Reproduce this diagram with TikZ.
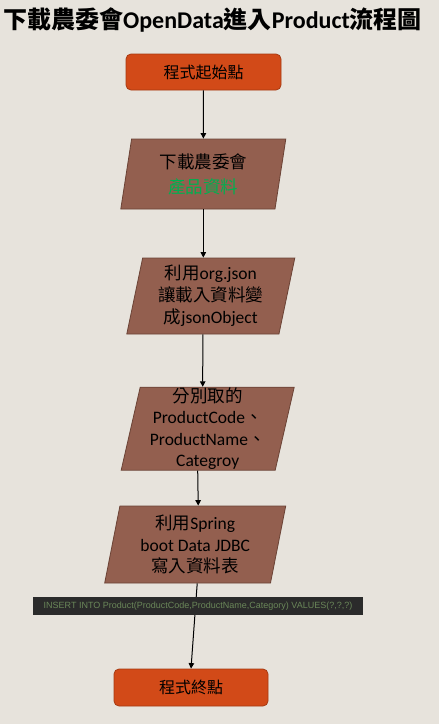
\documentclass[tikz,border=0pt]{standalone}
\usepackage{fontspec}
\setmainfont{Carlito}
\newfontfamily\zhfont{Noto Sans CJK TC}
\newfontfamily\sqlfont{Liberation Sans}
\newcommand{\zh}[1]{{\zhfont #1}}
\usepackage{tikz}
\usetikzlibrary{
  positioning, arrows.meta, shapes.geometric, calc
}
\definecolor{flowBack}{HTML}{E7E3DC}
\definecolor{flowOrange}{HTML}{D24A18}
\definecolor{flowOrangeDk}{HTML}{A63A12}
\definecolor{flowBrown}{HTML}{935F4F}
\definecolor{flowBrownDk}{HTML}{6B4336}
\definecolor{flowGreen}{HTML}{00B050}
\definecolor{sqlBack}{HTML}{2B2B2B}
\definecolor{sqlText}{HTML}{6A8759}
\tikzset{
  termbox/.style={rectangle, rounded corners=5pt, draw=flowOrangeDk,
    fill=flowOrange, line width=0.8pt, minimum width=155pt,
    minimum height=36pt, font=\fontsize{16}{19}\selectfont},
  databox/.style={trapezium, trapezium left angle=76,
    trapezium right angle=104, trapezium stretches body,
    draw=flowBrownDk, fill=flowBrown, line width=0.8pt, align=center,
    inner sep=1pt, font=\fontsize{17.5}{22}\selectfont},
  sqlbox/.style={rectangle, fill=sqlBack, text=sqlText,
    minimum width=330pt, minimum height=18pt, inner sep=0pt,
    font=\sqlfont\fontsize{9}{11}\selectfont},
  arrowline/.style={-{Triangle[length=5.5pt, width=5.5pt]},
    line width=1pt, black},
}

\begin{document}
\begin{tikzpicture}[x=1pt, y=-1pt]
    \useasboundingbox[fill=flowBack] (0,0) rectangle (439,724);
    \node[font=\fontsize{24}{27}\selectfont\bfseries] (title) at (212.5,20)
      {\zh{下載農委會}OpenData\zh{進入}Product\zh{流程圖}};
    \node[termbox] (start) at (203.5,72) {\zh{程式起始點}};
    \node[databox, minimum width=165pt, minimum height=70pt,
          font=\fontsize{17.5}{25}\selectfont]
      (fetch) at (203.3,174)
      {\zh{下載農委會}\\ \textcolor{flowGreen}{\zh{產品資料}}};
    \node[databox, minimum width=168pt, minimum height=76pt]
      (parse) at (210.8,296)
      {\zh{利用}org.json\\ \zh{讓載入資料變}\\ \zh{成}jsonObject};
    \node[databox, minimum width=173pt, minimum height=83pt,
          inner ysep=-3pt, font=\fontsize{17.5}{21.5}\selectfont]
      (pick) at (207.7,428.7)
      {\zh{分別取的}\\ ProductCode\zh{、}\\ ProductName\zh{、}\\ Categroy};
    \node[databox, minimum width=181pt, minimum height=77pt,
          font=\fontsize{17.5}{21.5}\selectfont]
      (store) at (195.2,544.5)
      {\zh{利用}Spring\\ boot Data JDBC\\ \zh{寫入資料表}};
    \node[termbox, minimum width=154pt, minimum height=37pt]
      (finish) at (191,687.5) {\zh{程式終點}};
    \draw[arrowline] (start) -- (fetch);
    \draw[arrowline] (fetch.south) -- (fetch.south |- parse.north);
    \draw[arrowline] ($(parse.south)+(-8,0)$) -- ($(pick.north)+(-5,0)$);
    \draw[arrowline] ($(pick.south)+(-10,0)$) -- ($(store.north)+(3,0)$);
    \draw[arrowline] ($(store.south)+(2,0)$) -- (finish.north);
    % sql statement shown over the last connector
    \node[sqlbox] (sql) at (198,606)
      {INSERT INTO Product(ProductCode,ProductName,Category) VALUES(?,?,?)};
\end{tikzpicture}
\end{document}
